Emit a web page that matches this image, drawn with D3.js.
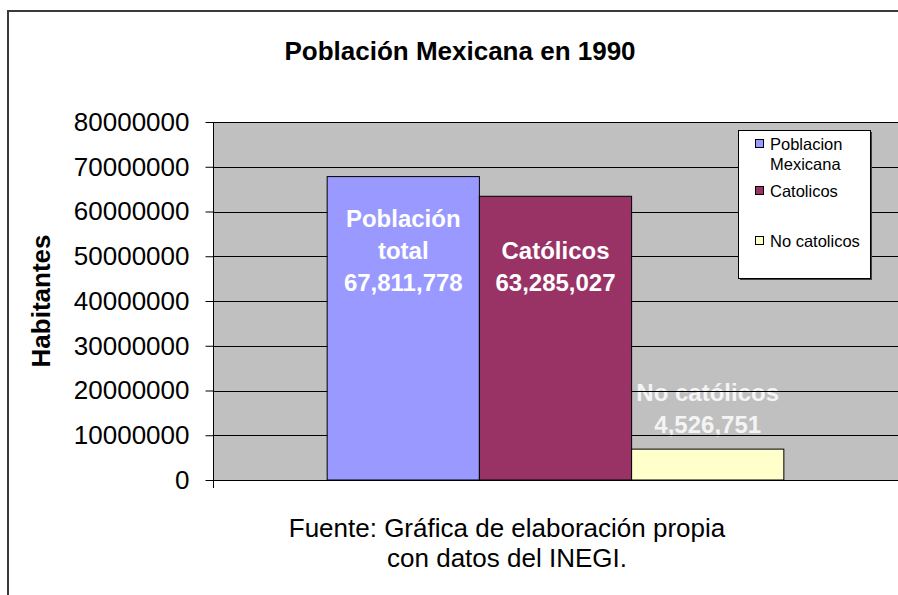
<!DOCTYPE html>
<html lang="es">
<head>
<meta charset="utf-8">
<script src="https://d3js.org/d3.v7.min.js"></script>
<style>
  body { margin: 0; background: #fff; }
  svg text { font-family: "Liberation Sans", Arial, sans-serif; }
</style>
</head>
<body>
<div id="chart"></div>
<script>
// data
var categories = ["1990"];
var seriesNames = ["Poblacion Mexicana", "Catolicos", "No catolicos"];
var seriesValues = [67800000, 63400000, 6900000];   // bar heights as drawn
var barLabels = [["Población", "total", "67,811,778"], ["Católicos", "63,285,027"], ["No católicos", "4,526,751"]];
var seriesColors = ["#9999ff", "#993366", "#ffffcc"];
var yTicks = [0, 10000000, 20000000, 30000000, 40000000, 50000000, 60000000, 70000000, 80000000];

var W = 898, H = 595;
var plot = {left: 213, top: 122, right: 898, bottom: 480};

var svg = d3.select("#chart").append("svg").attr("width", W).attr("height", H);

// outer frame
svg.append("rect")
  .attr("x", 8).attr("y", 11).attr("width", W + 10).attr("height", H + 10)
  .attr("fill", "#fff").attr("stroke", "#3a3a3a").attr("stroke-width", 2);

var x0 = d3.scaleBand().domain(categories).range([plot.left, plot.right])
  .paddingInner(0).paddingOuter(0.25);
var x1 = d3.scaleBand().domain(seriesNames).range([0, x0.bandwidth()]);
var y = d3.scaleLinear().domain([0, 80000000]).range([plot.bottom, plot.top]);

// plot background
svg.append("rect")
  .attr("x", plot.left).attr("y", plot.top)
  .attr("width", plot.right - plot.left).attr("height", plot.bottom - plot.top)
  .attr("fill", "#c0c0c0");

// label that sits under the gridlines
var lowLabel = svg.append("g");

// gridlines
svg.append("g").selectAll("line").data(yTicks.slice(1)).join("line")
  .attr("x1", plot.left).attr("x2", plot.right)
  .attr("y1", function (d) { return Math.round(y(d)) + 0.5; })
  .attr("y2", function (d) { return Math.round(y(d)) + 0.5; })
  .attr("stroke", "#000").attr("stroke-width", 1);

// bars
var g = svg.append("g").attr("transform", "translate(" + x0(categories[0]) + ",0)");
g.selectAll("rect").data(seriesValues).join("rect")
  .attr("x", function (d, i) { return x1(seriesNames[i]); })
  .attr("y", function (d) { return y(d); })
  .attr("width", x1.bandwidth())
  .attr("height", function (d) { return y(0) - y(d); })
  .attr("fill", function (d, i) { return seriesColors[i]; })
  .attr("stroke", "#000").attr("stroke-width", 1);

// y axis
var yAxis = d3.axisLeft(y).tickValues(yTicks).tickSize(8).tickPadding(16)
  .tickFormat(d3.format("d"));
var ya = svg.append("g").attr("transform", "translate(" + (plot.left + 0.5) + ",0)").call(yAxis);
ya.select(".domain").remove();
ya.selectAll(".tick line").attr("stroke", "#000");
ya.selectAll(".tick text").attr("font-size", 26).attr("fill", "#000")
  .style("font-family", "'Liberation Sans', Arial, sans-serif");
svg.append("line")
  .attr("x1", plot.left + 0.5).attr("x2", plot.left + 0.5)
  .attr("y1", plot.top).attr("y2", plot.bottom + 8)
  .attr("stroke", "#000");
svg.append("line")
  .attr("x1", plot.left).attr("x2", plot.right)
  .attr("y1", plot.bottom + 0.5).attr("y2", plot.bottom + 0.5)
  .attr("stroke", "#000");

// bar labels
var lineH = 32;
barLabels.forEach(function (lines, i) {
  var cx = x0(categories[0]) + x1(seriesNames[i]) + x1.bandwidth() / 2;
  var firstY = i === 0 ? 227 : (i === 1 ? 259 : 401);
  var target = i === 2 ? lowLabel : svg;
  target.append("text")
    .attr("x", cx).attr("y", firstY)
    .attr("text-anchor", "middle")
    .attr("font-size", 24).attr("font-weight", "bold")
    .attr("fill", i === 2 ? "#f4f4f4" : "#fff")
    .selectAll("tspan").data(lines).join("tspan")
    .attr("x", cx).attr("dy", function (d, k) { return k === 0 ? 0 : lineH; })
    .text(function (d) { return d; });
});

// title
svg.append("text")
  .attr("x", 460).attr("y", 60).attr("text-anchor", "middle")
  .attr("font-size", 26).attr("font-weight", "bold").text("Población Mexicana en 1990");

// y title
svg.append("text")
  .attr("transform", "translate(50,301) rotate(-90)")
  .attr("text-anchor", "middle")
  .attr("font-size", 26).attr("font-weight", "bold").text("Habitantes");

// footer
svg.append("text")
  .attr("x", 507).attr("y", 537).attr("text-anchor", "middle")
  .attr("font-size", 26).text("Fuente: Gráfica de elaboración propia");
svg.append("text")
  .attr("x", 507).attr("y", 567).attr("text-anchor", "middle")
  .attr("font-size", 26).text("con datos del INEGI.");

// legend
var lg = svg.append("g");
lg.append("rect").attr("x", 740).attr("y", 132).attr("width", 132).attr("height", 148)
  .attr("fill", "#404040");
lg.append("rect").attr("x", 738.5).attr("y", 130.5).attr("width", 132).attr("height", 148)
  .attr("fill", "#fff").attr("stroke", "#000").attr("stroke-width", 1);
var legendRows = [["Poblacion", "Mexicana"], ["Catolicos"], ["No catolicos"]];
var legendY = [150, 197, 247];
legendRows.forEach(function (rows, i) {
  lg.append("rect")
    .attr("x", 755.5).attr("y", legendY[i] - 10.5).attr("width", 8).attr("height", 8)
    .attr("fill", seriesColors[i]).attr("stroke", "#000");
  lg.append("text").attr("x", 770).attr("y", legendY[i]).attr("font-size", 16.5)
    .selectAll("tspan").data(rows).join("tspan")
    .attr("x", 770).attr("dy", function (d, k) { return k === 0 ? 0 : 20; })
    .text(function (d) { return d; });
});
</script>
</body>
</html>
